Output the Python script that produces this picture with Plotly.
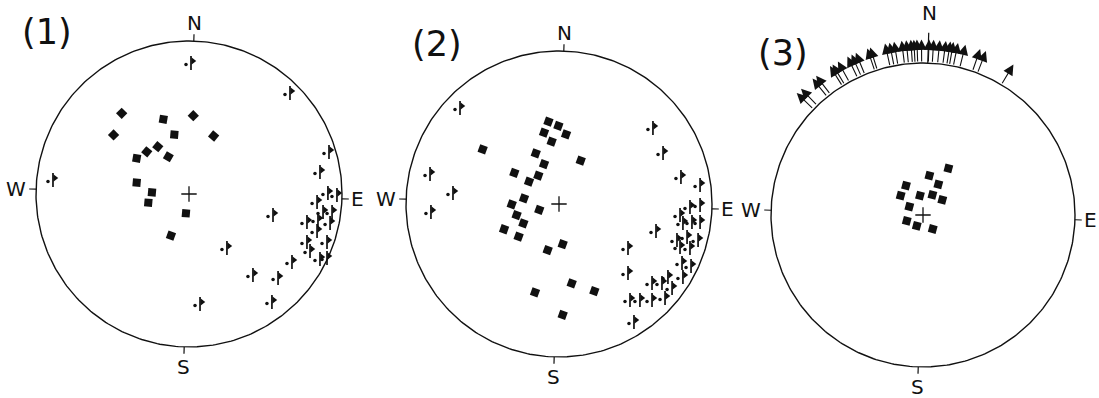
import numpy as np
import plotly.graph_objects as go

W, H = 1099, 398

# ---- data, unit circle coords (x = east, y = north) ----
# panel (1)
p1_sq_x = [-0.44, -0.493, -0.168, 0.028, -0.096, 0.161, -0.204, -0.276, -0.342, -0.135, -0.342, -0.242, -0.266, -0.020, -0.118]
p1_sq_y = [0.527, 0.386, 0.488, 0.512, 0.388, 0.379, 0.309, 0.276, 0.233, 0.244, 0.074, 0.011, -0.057, -0.126, -0.272]
p1_st_x = [0.013, 0.660, 0.915, 0.856, -0.889, 0.837, 0.908, 0.967, 0.876, 0.935, 0.771, 0.843, 0.922,
           0.837, 0.771, 0.902, 0.791, 0.856, 0.902, 0.673, 0.418, 0.582, 0.542, 0.549, 0.248, 0.072]
p1_st_y = [0.856, 0.660, 0.275, 0.144, 0.092, -0.052, 0.007, -0.007, -0.118, -0.118, -0.183, -0.170, -0.190,
           -0.242, -0.314, -0.314, -0.373, -0.425, -0.418, -0.444, -0.529, -0.549, -0.706, -0.137, -0.353, -0.719]

# panel (2)
p2_sq_x = [-0.069, -0.004, -0.098, 0.046, -0.048, -0.499, -0.152, 0.142, -0.098, -0.292, -0.135, -0.196, -0.229,
           -0.309, -0.129, -0.277, -0.233, -0.359, -0.264, 0.024, -0.074, 0.083, 0.231, -0.157, 0.024]
p2_sq_y = [0.539, 0.510, 0.466, 0.455, 0.407, 0.357, 0.331, 0.283, 0.261, 0.204, 0.185, 0.146, 0.037,
           -0.002, -0.039, -0.072, -0.126, -0.165, -0.213, -0.263, -0.301, -0.519, -0.569, -0.577, -0.725]
p2_st_x = [-0.647, -0.843, -0.693, -0.837, 0.614, 0.680, 0.797, 0.922, 0.634, 0.451, 0.451, 0.490,
           0.791, 0.856, 0.922, 0.810, 0.869, 0.922, 0.771, 0.837, 0.909, 0.791, 0.856, 0.804, 0.863,
           0.810, 0.608, 0.673, 0.712, 0.739, 0.464, 0.529, 0.608, 0.693]
p2_st_y = [0.627, 0.196, 0.072, -0.052, 0.497, 0.333, 0.176, 0.124, -0.176, -0.288, -0.451, -0.771,
           -0.072, -0.020, -0.007, -0.124, -0.118, -0.118, -0.235, -0.216, -0.235, -0.281, -0.288, -0.386, -0.405,
           -0.477, -0.516, -0.516, -0.477, -0.549, -0.627, -0.627, -0.627, -0.614]

# panel (3)
p3_sq_x = [0.167, 0.042, 0.101, -0.112, -0.147, -0.020, 0.062, 0.127, -0.090, -0.107, -0.041, 0.064]
p3_sq_y = [0.307, 0.259, 0.202, 0.193, 0.127, 0.127, 0.132, 0.099, 0.055, -0.039, -0.072, -0.092]
# slip directions drawn as arrows outside the net (azimuth, degrees)
p3_arrow_az = [-46, -44, -39, -37.5, -32, -31, -29, -25.5, -24, -22.5, -18.5, -17.5, -12.5, -11, -9.5,
               -7, -5.5, -4, -3, -2, -0.5, 2, 3.5, 5.5, 7.5, 9, 10, 11.5, 14, 19, 21, 31]

panel_labels = ["(1)", "(2)", "(3)"]
compass_text = ["N", "E", "S", "W"]
compass_az = [0, 90, 180, 270]

# ---- layout constants (pixels of the picture) ----
panels = [
    dict(cx=189, cy=194, R=153, x0=0, x1=366, lab=(47, 32), n_r=1.12),
    dict(cx=559, cy=204, R=153, x0=366, x1=733, lab=(437, 44), n_r=1.12),
    dict(cx=923, cy=215, R=152, x0=733, x1=W, lab=(783, 53), n_r=1.33),
]
ROT = 1.8  # scan skew of the compass marks
INK = "#111111"
FONT = "DejaVu Sans"

sq_data = [(p1_sq_x, p1_sq_y), (p2_sq_x, p2_sq_y), (p3_sq_x, p3_sq_y)]
st_data = [(p1_st_x, p1_st_y), (p2_st_x, p2_st_y), ([], [])]
sq_angles = [[45, 45, 10, 45, 5, 40, 40, 40, 10, 30, 5, 5, 5, 5, 20], 20, 15]

fig = go.Figure()
t = np.linspace(0, 2 * np.pi, 361)
annotations = []

for i, p in enumerate(panels):
    n = "" if i == 0 else str(i + 1)
    xa, ya = "x" + n, "y" + n
    R = p["R"]

    # net outline
    fig.add_trace(go.Scatter(x=np.cos(t), y=np.sin(t), mode="lines",
                             line=dict(color=INK, width=1.4), xaxis=xa, yaxis=ya,
                             hoverinfo="skip", showlegend=False))
    # compass ticks
    tx, ty = [], []
    for az in compass_az:
        a = np.radians(az + ROT)
        r1 = 1.2 if (i == 2 and az == 0) else 1.045
        tx += [np.sin(a), r1 * np.sin(a), None]
        ty += [np.cos(a), r1 * np.cos(a), None]
    fig.add_trace(go.Scatter(x=tx, y=ty, mode="lines", line=dict(color=INK, width=1.2),
                             xaxis=xa, yaxis=ya, hoverinfo="skip", showlegend=False))
    # centre cross
    fig.add_trace(go.Scatter(x=[0], y=[0], mode="markers",
                             marker=dict(symbol="cross-thin", size=11, line=dict(color=INK, width=1.3)),
                             xaxis=xa, yaxis=ya, hoverinfo="skip", showlegend=False))
    # poles (squares)
    sx, sy = sq_data[i]
    fig.add_trace(go.Scatter(x=sx, y=sy, mode="markers",
                             marker=dict(symbol="square", size=8, color=INK, angle=sq_angles[i]),
                             xaxis=xa, yaxis=ya, showlegend=False))
    # striae: dot + stem with a flag
    gx, gy = st_data[i]
    if gx:
        gx, gy = np.array(gx), np.array(gy)
        fig.add_trace(go.Scatter(x=gx - 5 / R, y=gy - 1.5 / R, mode="markers",
                                 marker=dict(symbol="circle", size=3.5, color=INK),
                                 xaxis=xa, yaxis=ya, showlegend=False))
        fig.add_trace(go.Scatter(x=gx, y=gy, mode="markers",
                                 marker=dict(symbol="line-ns", size=10, line=dict(color=INK, width=1.7)),
                                 xaxis=xa, yaxis=ya, showlegend=False))
        fig.add_trace(go.Scatter(x=gx + 2 / R, y=gy + 2 / R, mode="markers",
                                 marker=dict(symbol="triangle-right", size=6.5, color=INK),
                                 xaxis=xa, yaxis=ya, showlegend=False))

    # compass letters
    for txt, az in zip(compass_text, compass_az):
        a = np.radians(az + ROT)
        rr = p["n_r"] if txt == "N" else (1.10 if txt == "E" else 1.13)
        annotations.append(dict(x=rr * np.sin(a), y=rr * np.cos(a), xref=xa, yref=ya, text=txt,
                                xanchor="center", yanchor="middle", showarrow=False,
                                font=dict(family=FONT, size=20, color=INK)))
    # panel number
    annotations.append(dict(x=p["lab"][0] / W, y=1 - p["lab"][1] / H,
                            xref="paper", yref="paper", text=panel_labels[i],
                            xanchor="center", yanchor="middle", showarrow=False,
                            font=dict(family=FONT, size=35, color=INK)))

    # axes so that one unit = R pixels, centred on the net
    fig.update_layout(**{
        ("xaxis" + n): dict(domain=[p["x0"] / W, p["x1"] / W],
                            range=[(p["x0"] - p["cx"]) / R, (p["x1"] - p["cx"]) / R],
                            visible=False, fixedrange=True),
        ("yaxis" + n): dict(domain=[0, 1], range=[(p["cy"] - H) / R, p["cy"] / R],
                            visible=False, fixedrange=True),
    })

# arrows outside panel (3)
for az in p3_arrow_az:
    a = np.radians(az)
    annotations.append(dict(x=1.155 * np.sin(a), y=1.155 * np.cos(a), ax=np.sin(a), ay=np.cos(a),
                            xref="x3", yref="y3", axref="x3", ayref="y3", text="",
                            showarrow=True, arrowhead=2, arrowsize=1.9, arrowwidth=1.1,
                            arrowcolor=INK, standoff=0))

fig.update_layout(width=W, height=H, margin=dict(l=0, r=0, t=0, b=0),
                  paper_bgcolor="white", plot_bgcolor="white",
                  showlegend=False, annotations=annotations)

# drop the page's default body margin so the figure fills the window
fig.write_html("out.html", config=dict(displayModeBar=False),
               post_script="document.body.style.margin='0';document.body.style.overflow='hidden';")
